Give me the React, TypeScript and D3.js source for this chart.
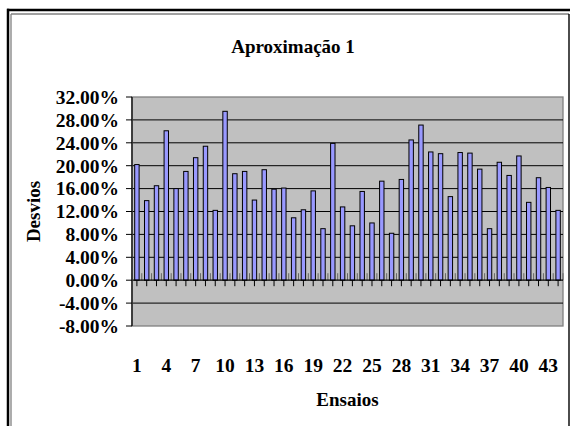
import React from "react";
import * as d3 from "d3";

// Desvio (%) de cada ensaio
const ensaios: number[] = d3.range(1, 45);
const desvios: number[] = [
  20.2, 13.9, 16.5, 26.1, 16.0, 19.0, 21.4, 23.4, 12.2, 29.5,
  18.6, 19.0, 14.0, 19.3, 15.9, 16.1, 10.9, 12.3, 15.6, 9.0,
  23.9, 12.8, 9.5, 15.5, 10.0, 17.3, 8.2, 17.6, 24.5, 27.1,
  22.4, 22.1, 14.6, 22.3, 22.2, 19.4, 9.0, 20.6, 18.3, 21.7,
  13.6, 17.9, 16.2, 12.2,
];
const yTicks: number[] = [-8, -4, 0, 4, 8, 12, 16, 20, 24, 28, 32];
const xTickLabels: number[] = ensaios.filter((d) => (d - 1) % 3 === 0);

const titulo = "Aproximação 1";
const tituloX = "Ensaios";
const tituloY = "Desvios";

const W = 570;
const H = 426;
const plot = { left: 132, right: 563, top: 97, bottom: 326 };
const textStyle: React.CSSProperties = {
  fontFamily: "Liberation Serif, Times New Roman, DejaVu Serif, serif",
  fontWeight: 700,
};

export default function App() {
  const x = d3
    .scaleBand<number>()
    .domain(ensaios)
    .range([plot.left, plot.right])
    .paddingInner(0.55)
    .paddingOuter(0.275);
  const step = x.step();
  const y = d3.scaleLinear().domain([-8, 32]).range([plot.bottom, plot.top]);
  const y0 = y(0);
  const fmt = (v: number) => v.toFixed(2) + "%";

  return (
    <svg
      width={W}
      height={H}
      style={{ position: "absolute", left: 0, top: 0, background: "#fff" }}
    >
      {/* moldura */}
      <line x1={7} x2={W} y1={10} y2={10} stroke="#000" strokeWidth={2.5} />
      <line x1={8} x2={8} y1={8.8} y2={H} stroke="#000" strokeWidth={2.5} />
      <line x1={11} x2={569} y1={14} y2={14} stroke="#808080" strokeWidth={1.3} />
      <line x1={11} x2={11} y1={14} y2={H} stroke="#808080" strokeWidth={1.3} />
      <line x1={569} x2={569} y1={14} y2={H} stroke="#000" strokeWidth={1.4} />

      {/* área de plotagem */}
      <rect
        x={plot.left}
        y={plot.top}
        width={plot.right - plot.left}
        height={plot.bottom - plot.top}
        fill="#C0C0C0"
        stroke="#808080"
        strokeWidth={1.3}
      />
      {yTicks
        .filter((t) => t > -8 && t < 32 && t !== 0)
        .map((t) => (
          <line
            key={"g" + t}
            x1={plot.left}
            x2={plot.right}
            y1={y(t)}
            y2={y(t)}
            stroke="#000"
            strokeWidth={1}
          />
        ))}

      {/* barras */}
      {desvios.map((v, i) => (
        <rect
          key={"b" + i}
          x={x(ensaios[i])!}
          y={y(Math.max(v, 0))}
          width={x.bandwidth()}
          height={Math.abs(y(v) - y0)}
          fill="#9999FF"
          stroke="#000"
          strokeWidth={1}
        />
      ))}

      {/* eixo X em zero */}
      {d3.range(0, ensaios.length + 1).map((k) => (
        <line
          key={"tu" + k}
          x1={plot.left + k * step}
          x2={plot.left + k * step}
          y1={y0 - 7}
          y2={y0}
          stroke="#666"
          strokeWidth={1}
        />
      ))}
      {ensaios.map((d) => {
        const c = x(d)! + x.bandwidth() / 2;
        return (
          <line key={"td" + d} x1={c} x2={c} y1={y0} y2={y0 + 6} stroke="#000" strokeWidth={1} />
        );
      })}
      <line x1={plot.left} x2={plot.right} y1={y0} y2={y0} stroke="#000" strokeWidth={1.2} />

      {/* eixo Y */}
      <line
        x1={plot.left}
        x2={plot.left}
        y1={plot.top}
        y2={plot.bottom}
        stroke="#333"
        strokeWidth={1.8}
      />
      {yTicks.map((t) => (
        <g key={"y" + t}>
          <line x1={plot.left - 6} x2={plot.left} y1={y(t)} y2={y(t)} stroke="#000" strokeWidth={1} />
          <text
            x={119}
            y={y(t)}
            dy="0.35em"
            textAnchor="end"
            style={textStyle}
            fontSize={19.5}
            fill="#000"
          >
            {fmt(t)}
          </text>
        </g>
      ))}

      {/* rótulos do eixo X */}
      {xTickLabels.map((d) => (
        <text
          key={"x" + d}
          x={x(d)! + x.bandwidth() / 2}
          y={372}
          textAnchor="middle"
          style={textStyle}
          fontSize={19.5}
          fill="#000"
        >
          {d}
        </text>
      ))}

      {/* títulos */}
      <text x={293} y={53} textAnchor="middle" style={textStyle} fontSize={19} fill="#000">
        {titulo}
      </text>
      <text
        x={(plot.left + plot.right) / 2}
        y={406}
        textAnchor="middle"
        style={textStyle}
        fontSize={19}
        fill="#000"
      >
        {tituloX}
      </text>
      <text
        transform={`translate(40, ${(plot.top + plot.bottom) / 2}) rotate(-90)`}
        textAnchor="middle"
        style={textStyle}
        fontSize={19}
        fill="#000"
      >
        {tituloY}
      </text>
    </svg>
  );
}
